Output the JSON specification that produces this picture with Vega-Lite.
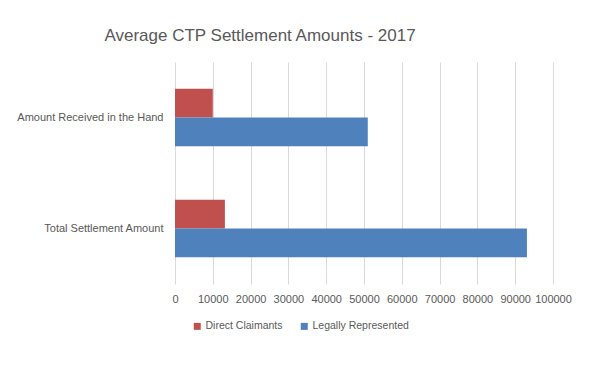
{
  "$schema": "https://vega.github.io/schema/vega-lite/v6.json",
  "autosize": {"type": "none"},
  "width": 378,
  "height": 222,
  "padding": {"left": 175, "top": 62, "right": 43, "bottom": 84},
  "background": "white",
  "title": {
    "text": "Average CTP Settlement Amounts - 2017",
    "anchor": "middle",
    "frame": "group",
    "dx": -104,
    "offset": 17,
    "font": "Liberation Sans",
    "fontSize": 17,
    "fontWeight": "normal",
    "color": "#595959"
  },
  "data": {
    "values": [
      {"category": "Amount Received in the Hand", "series": "Direct Claimants", "amount": 10000},
      {"category": "Amount Received in the Hand", "series": "Legally Represented", "amount": 51000},
      {"category": "Total Settlement Amount", "series": "Direct Claimants", "amount": 13200},
      {"category": "Total Settlement Amount", "series": "Legally Represented", "amount": 93100}
    ]
  },
  "mark": {"type": "bar"},
  "encoding": {
    "y": {
      "field": "category",
      "type": "nominal",
      "sort": ["Amount Received in the Hand", "Total Settlement Amount"],
      "scale": {"paddingInner": 0.48, "paddingOuter": 0.24},
      "axis": {
        "title": null,
        "domain": false,
        "ticks": false,
        "labelPadding": 12,
        "labelFont": "Liberation Sans",
        "labelFontSize": 11,
        "labelColor": "#595959"
      }
    },
    "yOffset": {
      "field": "series",
      "type": "nominal",
      "sort": ["Direct Claimants", "Legally Represented"],
      "scale": {"paddingInner": 0, "paddingOuter": 0}
    },
    "x": {
      "field": "amount",
      "type": "quantitative",
      "scale": {"domain": [0, 100000], "nice": false},
      "axis": {
        "title": null,
        "values": [0, 10000, 20000, 30000, 40000, 50000, 60000, 70000, 80000, 90000, 100000],
        "format": "d",
        "domain": false,
        "ticks": false,
        "grid": true,
        "gridColor": "#d9d9d9",
        "gridWidth": 1,
        "labelPadding": 9,
        "labelFont": "Liberation Sans",
        "labelFontSize": 11,
        "labelColor": "#595959",
        "labelFlush": false,
        "labelOverlap": false
      }
    },
    "color": {
      "field": "series",
      "type": "nominal",
      "sort": ["Direct Claimants", "Legally Represented"],
      "scale": {"domain": ["Direct Claimants", "Legally Represented"], "range": ["#C0504D", "#4F81BD"]},
      "legend": {
        "title": null,
        "orient": "none",
        "direction": "horizontal",
        "legendX": 17,
        "legendY": 259,
        "symbolType": "square",
        "symbolSize": 49,
        "symbolStrokeWidth": 0,
        "labelOffset": 3,
        "columnPadding": 16,
        "labelFont": "Liberation Sans",
        "labelFontSize": 10.5,
        "labelColor": "#595959"
      }
    }
  },
  "config": {
    "view": {"stroke": null}
  }
}
